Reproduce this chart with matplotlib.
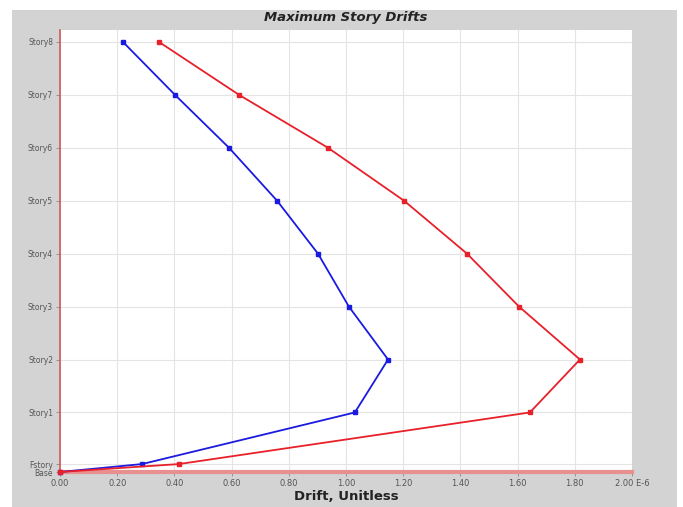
import matplotlib
matplotlib.use("Agg")
import matplotlib.pyplot as plt
from matplotlib.patches import Rectangle

stories = ["Base", "Fstory", "Story1", "Story2", "Story3", "Story4", "Story5", "Story6", "Story7", "Story8"]
elev = [0.0, 0.6, 4.5, 8.5, 12.5, 16.5, 20.5, 24.5, 28.5, 32.5]
drift_blue = [0.0, 0.287, 1.031, 1.147, 1.010, 0.902, 0.759, 0.591, 0.402, 0.220]
drift_red = [0.0, 0.416, 1.643, 1.818, 1.605, 1.423, 1.203, 0.937, 0.626, 0.346]
xticks = [0.0, 0.2, 0.4, 0.6, 0.8, 1.0, 1.2, 1.4, 1.6, 1.8, 2.0]
xticklabels = ["0.00", "0.20", "0.40", "0.60", "0.80", "1.00", "1.20", "1.40", "1.60", "1.80", "2.00 E-6"]

plt.rcParams['font.family'] = ['DejaVu Sans']
fig = plt.figure(figsize=(6.83, 5.07), dpi=100)
fig.patch.set_facecolor("white")
fig.patches.append(Rectangle((12/683, 0), 665/683, 497/507, transform=fig.transFigure,
                             facecolor="#d3d3d3", edgecolor="none", zorder=-10))

ax = fig.add_axes([60/683, 35/507, 572/683, 442/507])
ax.set_facecolor("white")
ax.plot(drift_blue, elev, color="#1a1ae0", lw=1.3, marker="s", ms=3, zorder=3, clip_on=False)
ax.plot(drift_red, elev, color="#e8202a", lw=1.3, marker="s", ms=3, zorder=4, clip_on=False)

ax.set_xlim(0, 2.0)
ax.set_ylim(0, 33.4)
ax.set_xticks(xticks)
ax.set_xticklabels(xticklabels, fontsize=6, color="#555555")
ax.set_yticks(elev)
ax.set_yticklabels(stories, fontsize=5.5, color="#555555")
ax.tick_params(axis="both", length=3, width=0.6, color="#888888", pad=2)
ax.grid(True, color="#e4e4e4", lw=0.8)
ax.set_axisbelow(True)
for s in ["top", "right"]:
    ax.spines[s].set_visible(False)
ax.spines["left"].set_color("#d05a5a")
ax.spines["bottom"].set_color("#e89090")
ax.spines["left"].set_linewidth(1.2)
ax.spines["bottom"].set_linewidth(3)

fig.text(346/683, 1 - 17/507, "Maximum Story Drifts", ha="center", va="center",
         fontsize=9.5, fontweight="bold", fontstyle="italic", color="#222222")
fig.text(346/683, 1 - 497/507, "Drift, Unitless", ha="center", va="center",
         fontsize=9.5, fontweight="bold", color="#222222")

fig.savefig("out.png", dpi=100)
